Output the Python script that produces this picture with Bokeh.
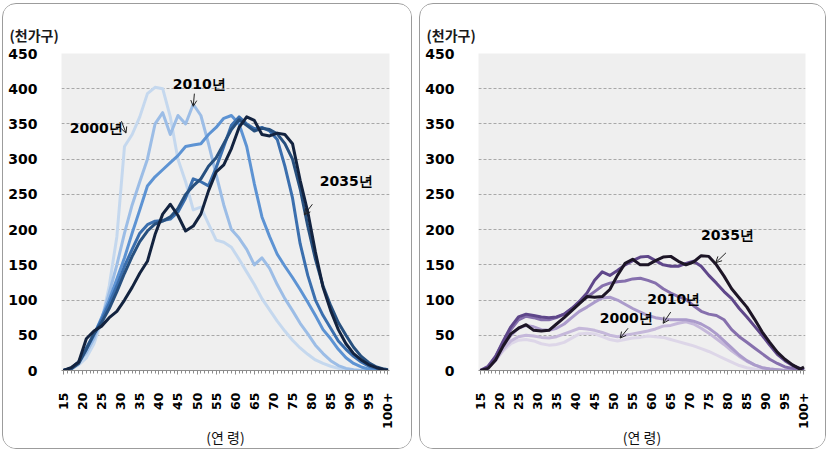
from math import pi

from bokeh.embed import file_html
from bokeh.layouts import row
from bokeh.models import Arrow, FixedTicker, Label, OpenHead, Range1d
from bokeh.plotting import figure
from bokeh.resources import INLINE

# ---- data (thousand households by age of householder) ----
ages = [15, 17, 19, 21, 23, 25, 27, 29, 31, 33, 35, 37, 39, 41, 43, 45, 47, 49, 51, 53, 55,
        57, 59, 61, 63, 65, 67, 69, 71, 73, 75, 77, 79, 81, 83, 85, 87, 89, 91, 93, 95, 97, 99, 100]

x_ticks = [15, 20, 25, 30, 35, 40, 45, 50, 55, 60, 65, 70, 75, 80, 85, 90, 95, 100]
x_tick_labels = ["15", "20", "25", "30", "35", "40", "45", "50", "55", "60", "65", "70",
                 "75", "80", "85", "90", "95", "100+"]
y_ticks = [0, 50, 100, 150, 200, 250, 300, 350, 400, 450]

years = ["2000", "2010", "2020", "2025", "2030", "2035"]

# left panel: all households
total_2000 = [0, 2, 8, 18, 38, 70, 120, 190, 318, 335, 360, 393, 402, 400, 360, 300, 268, 228, 232, 208,
              185, 182, 175, 158, 140, 122, 102, 86, 70, 56, 43, 32, 23, 15, 10, 6, 3, 1, 0, 0, 0, 0, 0, 0]
total_2010 = [0, 3, 12, 25, 45, 72, 110, 150, 195, 235, 268, 300, 350, 366, 335, 362, 350, 378, 362, 322,
              278, 235, 200, 188, 172, 150, 160, 145, 122, 102, 85, 67, 52, 36, 24, 14, 7, 3, 1, 0, 0, 0, 0, 0]
total_2020 = [0, 3, 12, 30, 50, 75, 100, 130, 160, 195, 228, 262, 275, 285, 295, 305, 318, 320, 322, 335,
              345, 358, 362, 350, 318, 265, 218, 190, 165, 148, 132, 115, 97, 78, 58, 45, 30, 18, 10, 5, 2, 1, 0, 0]
total_2025 = [0, 3, 12, 32, 52, 72, 95, 120, 148, 172, 195, 207, 212, 213, 215, 225, 245, 272, 268, 262,
              288, 318, 348, 360, 350, 343, 345, 340, 328, 290, 245, 180, 135, 100, 78, 60, 42, 30, 20, 12, 6, 3, 1, 0]
total_2030 = [0, 2, 10, 30, 52, 68, 88, 112, 138, 162, 183, 198, 208, 212, 218, 230, 250, 262, 272, 290,
              302, 322, 342, 356, 348, 340, 344, 342, 336, 322, 300, 258, 205, 158, 120, 92, 68, 50, 33, 20, 11, 5, 2, 1]
total_2035 = [0, 4, 12, 45, 56, 63, 75, 84, 100, 118, 138, 155, 193, 222, 236, 220, 198, 205, 222, 255,
              282, 292, 315, 345, 360, 355, 335, 333, 337, 335, 322, 270, 225, 168, 118, 85, 58, 38, 24, 15, 8, 4, 1, 0]

# right panel: one-person households
single_2000 = [0, 5, 15, 28, 38, 43, 44, 42, 38, 36, 37, 40, 46, 52, 53, 52, 48, 44, 42, 44,
               46, 47, 49, 48, 47, 44, 41, 38, 35, 31, 27, 22, 17, 12, 7, 4, 2, 1, 0, 0, 0, 0, 0, 0]
single_2010 = [0, 4, 14, 30, 42, 48, 50, 49, 47, 46, 48, 52, 56, 60, 59, 57, 54, 50, 48, 50,
               52, 54, 56, 59, 63, 64, 67, 69, 66, 60, 53, 45, 37, 28, 20, 13, 8, 4, 2, 1, 0, 0, 0, 0]
single_2020 = [0, 5, 18, 35, 50, 60, 64, 62, 58, 57, 60, 66, 75, 84, 90, 97, 103, 104, 100, 94,
               88, 83, 78, 75, 73, 72, 72, 72, 70, 66, 60, 52, 42, 32, 22, 14, 8, 4, 2, 1, 0, 0, 0, 0]
single_2025 = [0, 6, 20, 40, 58, 72, 77, 75, 72, 72, 75, 80, 88, 96, 104, 112, 120, 124, 126, 127,
               130, 131, 128, 124, 116, 110, 105, 101, 92, 84, 80, 78, 72, 58, 48, 40, 32, 24, 16, 10, 5, 3, 1, 0]
single_2030 = [0, 5, 20, 42, 62, 76, 80, 78, 76, 75, 76, 80, 88, 98, 110, 128, 140, 135, 142, 150,
               156, 161, 162, 156, 150, 148, 148, 152, 155, 148, 135, 124, 112, 102, 88, 76, 63, 50, 36, 23, 14, 7, 3, 1]
single_2035 = [0, 3, 15, 35, 52, 60, 65, 57, 56, 57, 66, 75, 85, 95, 105, 104, 105, 115, 135, 152,
               158, 150, 150, 156, 161, 162, 155, 150, 154, 163, 162, 150, 134, 116, 103, 90, 73, 55, 40, 26, 16, 8, 2, 5]

blues = ["#c5d8ee", "#9cbde6", "#5d93d3", "#3b6fae", "#27507f", "#13233f"]
purples = ["#ddd6e8", "#c5b8da", "#ab9bcb", "#8670ad", "#5f478a", "#1d1526"]

NUM_FONT = "DejaVu Sans"
KO_FONT = "Noto Sans CJK KR"


def build_panel(series, palette, notes, width, left_gap, border_left, border_right):
    p = figure(width=width, height=446,
               x_range=Range1d(14.5, 100.4), y_range=Range1d(0, 450),
               output_backend="svg", toolbar_location=None,
               min_border_left=border_left, min_border_right=border_right,
               min_border_top=49, min_border_bottom=79,
               background_fill_color="#efefef", border_fill_color="white",
               outline_line_color=None, margin=(3, 0, 0, left_gap))
    p.styles = {"border": "1px solid #9c9c9c", "border-radius": "14px", "overflow": "hidden"}

    p.title.text = "(천가구)"
    p.title.text_font = KO_FONT
    p.title.text_font_size = "14px"
    p.title.text_font_style = "bold"
    p.title.text_color = "#1a1a1a"
    p.title.align = "left"
    p.title.offset = -border_left + 6
    p.title.standoff = 18

    for vals, col in zip(series, palette):
        p.line(ages, vals, line_color=col, line_width=3, line_join="round")

    # y axis
    p.yaxis.ticker = FixedTicker(ticks=y_ticks)
    p.yaxis.axis_line_color = None
    p.yaxis.major_tick_line_color = None
    p.yaxis.minor_tick_line_color = None
    p.yaxis.major_label_text_font = NUM_FONT
    p.yaxis.major_label_text_font_style = "bold"
    p.yaxis.major_label_text_font_size = "14px"
    p.yaxis.major_label_text_color = "black"
    p.yaxis.major_label_standoff = 18

    # x axis
    p.xaxis.ticker = FixedTicker(ticks=x_ticks, minor_ticks=list(range(15, 101)))
    p.xaxis.major_label_overrides = {t: s for t, s in zip(x_ticks, x_tick_labels)}
    p.xaxis.major_label_orientation = pi / 2
    p.xaxis.major_label_text_font = NUM_FONT
    p.xaxis.major_label_text_font_style = "bold"
    p.xaxis.major_label_text_font_size = "12.5px"
    p.xaxis.major_label_text_color = "black"
    p.xaxis.major_label_standoff = 18
    p.xaxis.axis_line_color = "#8c8c8c"
    p.xaxis.major_tick_line_color = "#8c8c8c"
    p.xaxis.minor_tick_line_color = "#8c8c8c"
    p.xaxis.major_tick_in = 0
    p.xaxis.major_tick_out = 4
    p.xaxis.minor_tick_in = 0
    p.xaxis.minor_tick_out = 3
    p.xaxis.axis_label = "(연 령)"
    p.xaxis.axis_label_text_font = KO_FONT
    p.xaxis.axis_label_text_font_style = "normal"
    p.xaxis.axis_label_text_font_size = "14px"
    p.xaxis.axis_label_text_color = "#111111"
    p.xaxis.axis_label_standoff = -5

    p.xgrid.visible = False
    p.ygrid.grid_line_color = "#a8a8a8"
    p.ygrid.grid_line_dash = "3 2"
    p.ygrid.grid_line_width = 1

    for text, tx, ty, x0, y0, x1, y1 in notes:
        p.add_layout(Label(x=tx, y=ty, text=text, text_align="center", text_baseline="middle",
                           text_font=NUM_FONT, text_font_style="bold",
                           text_font_size="14px", text_color="black"))
        p.add_layout(Arrow(end=OpenHead(size=6, line_width=1, line_color="#222222"),
                           x_start=x0, y_start=y0, x_end=x1, y_end=y1,
                           line_width=1, line_color="#222222"))
    return p


left_notes = [
    ("2000년", 23.6, 344, 30.2, 354, 31.4, 337),
    ("2010년", 50.6, 407, 49.3, 393, 49.0, 375),
    ("2035년", 89.1, 269, 80.2, 236, 78.1, 221),
]
right_notes = [
    ("2035년", 79.9, 192, 79.5, 167, 76.8, 153),
    ("2010년", 65.8, 102, 65.0, 83, 63.0, 67),
    ("2000년", 53.3, 74, 53.8, 60, 51.7, 46),
]

left = build_panel([total_2000, total_2010, total_2020, total_2025, total_2030, total_2035],
                   blues, left_notes, width=410, left_gap=2, border_left=58, border_right=24)
right = build_panel([single_2000, single_2010, single_2020, single_2025, single_2030, single_2035],
                    purples, right_notes, width=407, left_gap=7, border_left=58, border_right=22)

page = row(left, right)
open("out.html", "w").write(file_html(page, INLINE))
